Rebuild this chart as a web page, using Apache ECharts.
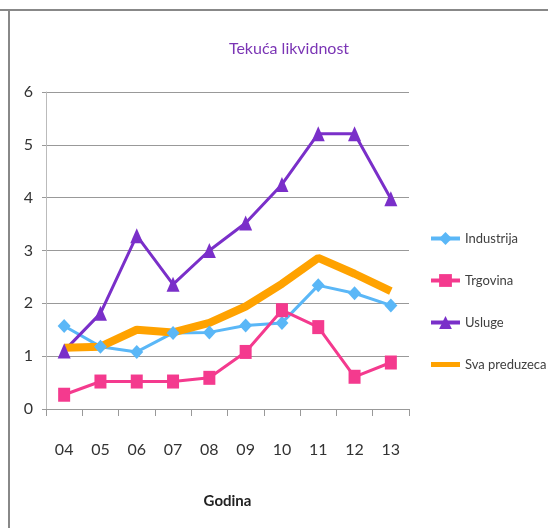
<!DOCTYPE html>
<html><head><meta charset="utf-8">
<script src="https://cdn.jsdelivr.net/npm/echarts@6/dist/echarts.min.js"></script>
<style>html,body{margin:0;padding:0;background:#fff}#c{width:548px;height:528px}</style>
</head><body><div id="c"></div>
<script>
const categories = ['04','05','06','07','08','09','10','11','12','13'];
const industrija = [1.57, 1.18, 1.08, 1.44, 1.45, 1.58, 1.63, 2.34, 2.19, 1.96];
const trgovina = [0.27, 0.52, 0.52, 0.52, 0.59, 1.08, 1.87, 1.55, 0.61, 0.88];
const usluge = [1.1, 1.81, 3.28, 2.36, 3.0, 3.52, 4.25, 5.21, 5.21, 3.98];
const svaPreduzeca = [1.16, 1.18, 1.5, 1.45, 1.63, 1.94, 2.37, 2.86, 2.56, 2.23];
const yTicks = [0, 1, 2, 3, 4, 5, 6];

const FONT = 'Lato, "Liberation Sans", sans-serif';
const chart = echarts.init(document.getElementById('c'));
chart.setOption({
  animation: false,
  backgroundColor: '#fff',
  textStyle: { fontFamily: FONT },
  title: {
    text: 'Tekuća likvidnost', left: 284, top: 36, textAlign: 'center',
    textStyle: { color: '#7B35B5', fontSize: 16, fontWeight: 'normal', fontFamily: FONT }
  },
  grid: { left: 46, right: 139, top: 92, bottom: 119, containLabel: false },
  legend: {
    orient: 'vertical', left: 429, top: 232, padding: 0, itemGap: 29, itemWidth: 29, itemHeight: 16,
    lineStyle: { width: 4 },
    textStyle: { fontSize: 13, color: '#404040', fontFamily: FONT },
    data: [
      { name: 'Industrija' },
      { name: 'Trgovina' },
      { name: 'Usluge' },
      { name: 'Sva preduzeca', icon: 'path://M0,0 L29,0 L29,5 L0,5 Z' }
    ]
  },
  xAxis: {
    type: 'category', data: categories, boundaryGap: true,
    name: 'Godina', nameLocation: 'middle', nameGap: 85,
    nameTextStyle: { fontSize: 15, fontWeight: 'bold', color: '#222', fontFamily: FONT },
    axisLine: { lineStyle: { color: '#999', width: 1 } },
    axisTick: { show: true, length: 7, lineStyle: { color: '#999' } },
    axisLabel: { fontSize: 16, color: '#333', margin: 33, fontFamily: FONT }
  },
  yAxis: {
    type: 'value', min: yTicks[0], max: yTicks[yTicks.length - 1], interval: 1,
    axisLine: { show: true, lineStyle: { color: '#bbb', width: 1 } },
    axisTick: { show: true, length: 4, lineStyle: { color: '#999' } },
    axisLabel: { fontSize: 16, color: '#333', margin: 13, fontFamily: FONT },
    splitLine: { lineStyle: { color: '#999', width: 1 } }
  },
  series: [
    { name: 'Industrija', type: 'line', data: industrija, symbol: 'diamond', symbolSize: [13, 14],
      itemStyle: { color: '#5AB7F7' }, lineStyle: { width: 3, color: '#5AB7F7' } },
    { name: 'Trgovina', type: 'line', data: trgovina, symbol: 'rect', symbolSize: [12, 14],
      itemStyle: { color: '#F43A8E' }, lineStyle: { width: 3, color: '#F43A8E' } },
    { name: 'Usluge', type: 'line', data: usluge, symbol: 'triangle', symbolSize: [13, 15],
      itemStyle: { color: '#7A2FC9' }, lineStyle: { width: 3, color: '#7A2FC9' } },
    { name: 'Sva preduzeca', type: 'line', data: svaPreduzeca, symbol: 'none',
      itemStyle: { color: '#FFA200' }, lineStyle: { width: 8, color: '#FFA200' } }
  ],
  graphic: [
    { type: 'line', shape: { x1: 0, y1: 10, x2: 548, y2: 10 }, style: { stroke: '#888', lineWidth: 2 } },
    { type: 'line', shape: { x1: 9, y1: 10, x2: 9, y2: 528 }, style: { stroke: '#888', lineWidth: 2 } }
  ]
});
</script></body></html>
